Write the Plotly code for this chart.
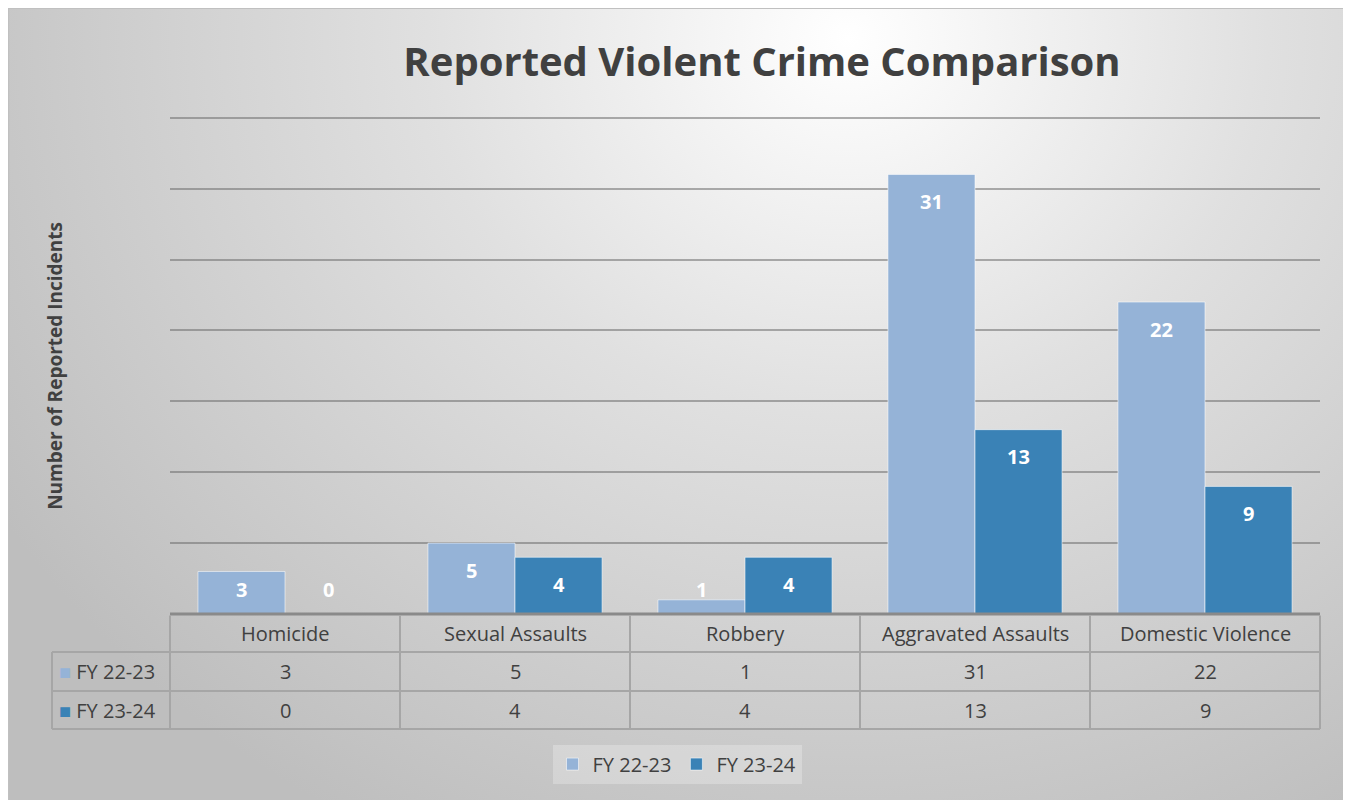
import base64
import plotly.graph_objects as go

categories = ["Homicide", "Sexual Assaults", "Robbery", "Aggravated Assaults", "Domestic Violence"]
fy22 = [3, 5, 1, 31, 22]
fy23 = [0, 4, 4, 13, 9]
series_names = ["FY 22-23", "FY 23-24"]

_LIGHT, _DARK, _TXT, _LINE = "#95b3d7", "#3a82b6", "#404040", "#a6a6a6"
_FONT = "Open Sans"

# page has an 8px body margin, so the figure is 8px smaller than the window on each axis
OFF = 8
W, H = 1351 - OFF, 800 - OFF
YMAX = 35.12                              # a hair above 35 so the top gridline is drawn
L, R, B = 170, 1320, 614                  # plot area in screen pixels
T = B - 496 * YMAX / 35
PW, PH = R - L, B - T


def px(x):
    return (x - L) / PW


def py(y):
    return (B - y) / PH


# background: radial grey gradient like the Excel chart area
svg = (f"<svg xmlns='http://www.w3.org/2000/svg' width='{W}' height='{H}' "
       f"viewBox='0 0 {W} {H}' preserveAspectRatio='none'><defs>"
       "<radialGradient id='g' gradientUnits='userSpaceOnUse' cx='840' cy='30' r='1000' "
       "gradientTransform='translate(840 30) scale(1 0.9) translate(-840 -30)'>"
       "<stop offset='0' stop-color='#ffffff'/><stop offset='0.42' stop-color='#e0e0e0'/>"
       "<stop offset='1' stop-color='#bebebe'/></radialGradient></defs>"
       f"<rect x='0' y='0' width='{W}' height='{H}' fill='url(#g)'/></svg>")
bg_src = "data:image/svg+xml;base64," + base64.b64encode(svg.encode()).decode()

fig = go.Figure()
for name, vals, color in [(series_names[0], fy22, _LIGHT), (series_names[1], fy23, _DARK)]:
    fig.add_trace(go.Bar(name=name, x=categories, y=vals, marker_color=color,
                         marker_line=dict(color="rgba(255,255,255,0.55)", width=1),
                         hoverinfo="x+y"))

# data labels (inside end, kept above the axis for short bars)
for k, vals in enumerate([fy22, fy23]):
    for c, v in zip(categories, vals):
        fig.add_annotation(x=c, y=max(v - 1.92, 1.7), xref="x", yref="y", text=f"<b>{v}</b>",
                           showarrow=False, xshift=(-43.5 if k == 0 else 43.5), yanchor="middle",
                           font=dict(family=_FONT, size=20, color="white"))


def pline(x0, x1, y0, y1, color=_LINE, width=2):
    return dict(type="line", xref="paper", yref="paper", x0=x0, x1=x1, y0=y0, y1=y1,
                line=dict(color=color, width=width))


# data table under the plot
shapes = [pline(0, 1, py(B), py(B), "#8a8a8a", 3)]
for y in [652, 691, 729]:
    shapes.append(pline(px(52), 1, py(y), py(y)))
for i in range(len(categories) + 1):
    x = i / len(categories)
    shapes.append(pline(x, x, py(B + 1.5), py(729)))
shapes.append(pline(px(52), px(52), py(652), py(729)))
# chart border
shapes.append(dict(type="rect", xref="paper", yref="paper", x0=px(8.5), x1=px(1351 + 5),
                   y0=py(8.5), y1=py(800 + 5), line=dict(color="#c0c0c0", width=1.5),
                   fillcolor="rgba(0,0,0,0)"))

for i, c in enumerate(categories):
    for y, txt in [(633, c), (671.5, str(fy22[i])), (710, str(fy23[i]))]:
        fig.add_annotation(x=c, xref="x", y=py(y), yref="paper", text=txt, showarrow=False,
                           yanchor="middle", font=dict(family=_FONT, size=20, color=_TXT))
for name, color, y in [(series_names[0], _LIGHT, 671.5), (series_names[1], _DARK, 710)]:
    fig.add_annotation(x=px(57), xref="paper", y=py(y), yref="paper", xanchor="left",
                       yanchor="middle", showarrow=False,
                       text=f"<span style='color:{color}'>■</span> {name}",
                       font=dict(family=_FONT, size=20, color=_TXT))

# axis title where Excel puts it
fig.add_annotation(x=px(55), y=py(366), xref="paper", yref="paper", textangle=-90, showarrow=False,
                   xanchor="center", yanchor="middle",
                   text="<b>Number of Reported Incidents</b>",
                   font=dict(family=_FONT, size=19, color=_TXT))

fig.update_layout(
    width=W, height=H,
    margin=dict(l=L - OFF, r=W - (R - OFF), t=T - OFF, b=H - (B - OFF), autoexpand=False),
    paper_bgcolor="white", plot_bgcolor="rgba(0,0,0,0)",
    barmode="group", bargap=0.243, bargroupgap=0,
    title=dict(text="<b>Reported Violent Crime Comparison</b>", x=(762 - OFF) / W, xanchor="center",
               y=1 - (62 - OFF) / H, yanchor="middle", font=dict(family=_FONT, size=40, color=_TXT)),
    showlegend=True,
    legend=dict(orientation="h", x=px(677), xanchor="center", y=py(764), yanchor="middle",
                bgcolor="rgba(255,255,255,0.25)", font=dict(family=_FONT, size=20, color=_TXT),
                itemclick=False),
    shapes=shapes,
    images=[dict(source=bg_src, xref="paper", yref="paper", x=px(OFF), y=py(OFF),
                 sizex=W / PW, sizey=H / PH, sizing="stretch",
                 xanchor="left", yanchor="top", layer="below")],
    font=dict(family=_FONT, color=_TXT),
)
fig.update_xaxes(showticklabels=False, showline=False, showgrid=False, zeroline=False)
fig.update_yaxes(range=[0, YMAX], dtick=5, showticklabels=False, showgrid=True,
                 gridcolor="rgba(110,110,110,0.55)", gridwidth=1.5, zeroline=False)

fig.write_html("out.html")
